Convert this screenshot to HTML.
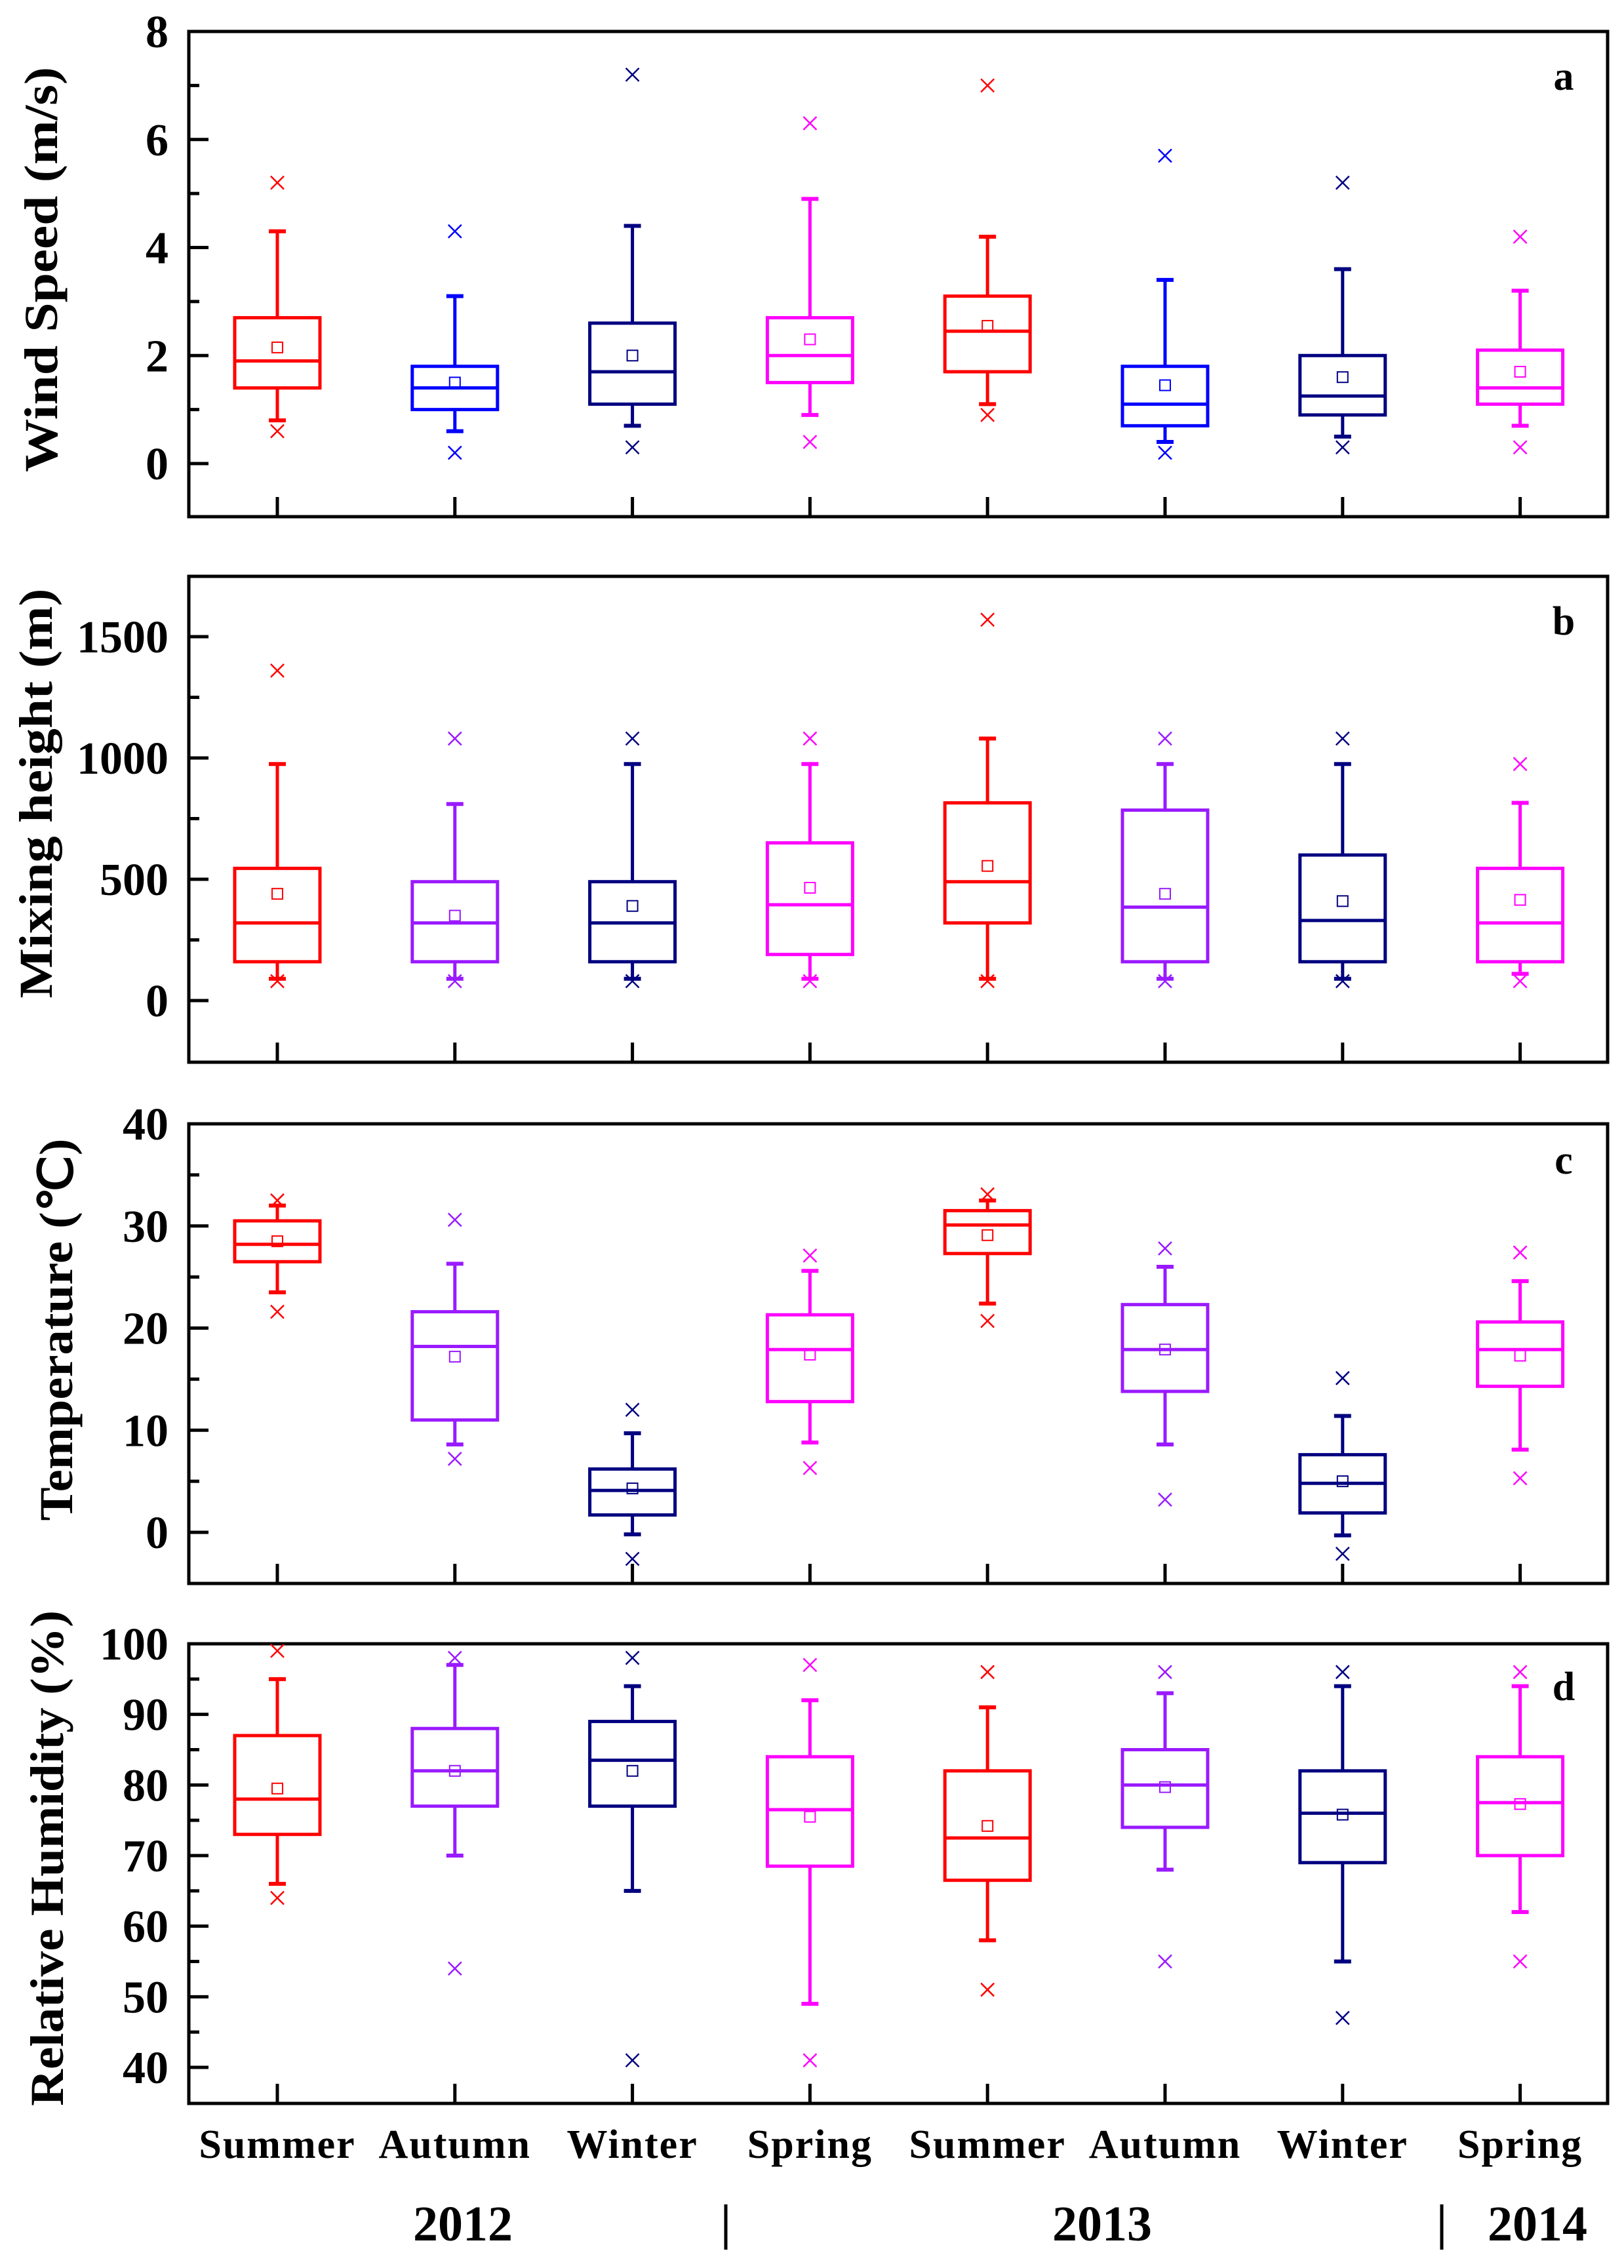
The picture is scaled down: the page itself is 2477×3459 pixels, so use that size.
<!DOCTYPE html>
<html><head><meta charset="utf-8"><style>
html,body{margin:0;padding:0;background:#fff;}
svg{display:block;}
text{font-family:"Liberation Serif",serif;font-weight:bold;fill:#000;}
</style></head><body>
<svg id="chart" width="2477" height="3459" viewBox="0 0 2477 3459" xmlns="http://www.w3.org/2000/svg"></svg>
<script>
// ---- data ----
const categories = ["Summer","Autumn","Winter","Spring","Summer","Autumn","Winter","Spring"];
const years = ["2012","2013","2014"];
// Wind speed (m/s)
const windLow = [0.8,0.6,0.7,0.9,1.1,0.4,0.5,0.7];
const windQ1 = [1.4,1.0,1.1,1.5,1.7,0.7,0.9,1.1];
const windMed = [1.9,1.4,1.7,2.0,2.45,1.1,1.25,1.4];
const windQ3 = [2.7,1.8,2.6,2.7,3.1,1.8,2.0,2.1];
const windHigh = [4.3,3.1,4.4,4.9,4.2,3.4,3.6,3.2];
const windMean = [2.15,1.5,2.0,2.3,2.55,1.45,1.6,1.7];
const windMin = [0.6,0.2,0.3,0.4,0.9,0.2,0.3,0.3];
const windMax = [5.2,4.3,7.2,6.3,7.0,5.7,5.2,4.2];
const windTicks = [0,2,4,6,8];
// Mixing height (m)
const mixLow = [90,90,90,90,90,90,90,110];
const mixQ1 = [160,160,160,190,320,160,160,160];
const mixMed = [320,320,320,395,490,385,330,320];
const mixQ3 = [545,490,490,650,815,785,600,545];
const mixHigh = [975,810,975,975,1080,975,975,815];
const mixMean = [440,350,390,465,555,440,410,415];
const mixMin = [80,80,80,80,80,80,80,80];
const mixMax = [1360,1080,1080,1080,1570,1080,1080,975];
const mixTicks = [0,500,1000,1500];
// Temperature (C)
const tempLow = [23.5,8.6,-0.2,8.8,22.4,8.6,-0.3,8.1];
const tempQ1 = [26.5,11.0,1.7,12.8,27.3,13.8,1.9,14.3];
const tempMed = [28.2,18.2,4.1,17.9,30.1,17.9,4.8,17.9];
const tempQ3 = [30.5,21.6,6.2,21.3,31.5,22.3,7.6,20.6];
const tempHigh = [32.0,26.3,9.7,25.6,32.5,26.0,11.4,24.6];
const tempMean = [28.5,17.2,4.3,17.4,29.1,17.9,5.0,17.3];
const tempMin = [21.6,7.2,-2.6,6.3,20.7,3.2,-2.1,5.3];
const tempMax = [32.5,30.6,12.0,27.1,33.1,27.8,15.1,27.4];
const tempTicks = [0,10,20,30,40];
// Relative humidity (%)
const rhLow = [66,70,65,49,58,68,55,62];
const rhQ1 = [73,77,77,68.5,66.5,74,69,70];
const rhMed = [78,82,83.5,76.5,72.5,80,76,77.5];
const rhQ3 = [87,88,89,84,82,85,82,84];
const rhHigh = [95,97,94,92,91,93,94,94];
const rhMean = [79.5,82,82,75.5,74.2,79.7,75.8,77.3];
const rhMin = [64,54,41,41,51,55,47,55];
const rhMax = [99,98,98,97,96,96,96,96];
const rhTicks = [40,50,60,70,80,90,100];

const NS="http://www.w3.org/2000/svg";
const svg=document.getElementById('chart');
function mk(tag,attrs,parent){const e=document.createElementNS(NS,tag);for(const k in attrs)e.setAttribute(k,attrs[k]);(parent||svg).appendChild(e);return e;}

const X0=288,X1=2452;
const catX0=423,catStep=270.8;
function xScale(i){return catX0+i*catStep;}

const RED="#ff0000",BLUE="#0000ff",NAVY="#000080",MAG="#ff00ff",PUR="#9a1aff";
const panels=[
 {key:"wind",letter:"a",title:"Wind Speed (m/s)",top:48,bottom:788,vmin:0,vmax:8,ymin:707,ymaxPx:48,minorStep:1,ticks:windTicks,
  low:windLow,q1:windQ1,med:windMed,q3:windQ3,high:windHigh,mean:windMean,mn:windMin,mx:windMax,
  colors:[RED,BLUE,NAVY,MAG,RED,BLUE,NAVY,MAG],titleX:62,titleY:411,titleLen:618,letterY:137},
 {key:"mixing",letter:"b",title:"Mixing height (m)",top:879,bottom:1620,vmin:0,vmax:1500,ymin:1526,ymaxPx:971,minorStep:250,ticks:mixTicks,
  low:mixLow,q1:mixQ1,med:mixMed,q3:mixQ3,high:mixHigh,mean:mixMean,mn:mixMin,mx:mixMax,
  colors:[RED,PUR,NAVY,MAG,RED,PUR,NAVY,MAG],titleX:54,titleY:1210,titleLen:625,letterY:968},
 {key:"temp",letter:"c",title:"Temperature (\u2103)",top:1714,bottom:2415,vmin:0,vmax:40,ymin:2337,ymaxPx:1714,minorStep:5,ticks:tempTicks,
  low:tempLow,q1:tempQ1,med:tempMed,q3:tempQ3,high:tempHigh,mean:tempMean,mn:tempMin,mx:tempMax,
  colors:[RED,PUR,NAVY,MAG,RED,PUR,NAVY,MAG],titleX:85,titleY:2028,titleLen:583,letterY:1790},
 {key:"rh",letter:"d",title:"Relative Humidity (%)",top:2507,bottom:3208,vmin:40,vmax:100,ymin:3153,ymaxPx:2507,minorStep:5,ticks:rhTicks,
  low:rhLow,q1:rhQ1,med:rhMed,q3:rhQ3,high:rhHigh,mean:rhMean,mn:rhMin,mx:rhMax,
  colors:[RED,PUR,NAVY,MAG,RED,PUR,NAVY,MAG],titleX:71,titleY:2834,titleLen:756,letterY:2593}
];

panels.forEach(p=>{
  const y=v=>p.ymin+(v-p.vmin)*(p.ymaxPx-p.ymin)/(p.vmax-p.vmin);
  const g=mk('g',{});
  
  
  const fr=mk('rect',{x:X0,y:p.top,width:X1-X0,height:p.bottom-p.top,fill:'none',stroke:'#000','stroke-width':5},g);
  
  
  for(let v=p.vmin;v<=p.vmax+1e-9;v+=p.minorStep){
    const major=p.ticks.some(t=>Math.abs(t-v)<1e-9);
    const t=mk('line',{x1:X0,x2:X0+(major?30:16),y1:y(v),y2:y(v),stroke:'#000','stroke-width':5},g);
    
    
  }
  p.ticks.forEach(v=>{
    const tl=mk('text',{x:257,y:y(v)+24,'text-anchor':'end','font-size':70},g);
    tl.textContent=String(v);
    
    
  });
  categories.forEach((c,i)=>{
    const t=mk('line',{x1:xScale(i),x2:xScale(i),y1:p.bottom,y2:p.bottom-30,stroke:'#000','stroke-width':5},g);
    
    
  });
  const tt=mk('text',{x:0,y:0,'text-anchor':'middle','font-size':72,transform:`translate(${p.titleX+25},${p.titleY}) rotate(-90)`,textLength:p.titleLen,lengthAdjust:'spacingAndGlyphs'},g);
  tt.textContent=p.title;
  
  
  const lt=mk('text',{x:2385,y:p.letterY,'text-anchor':'middle','font-size':62},g);
  lt.textContent=p.letter;
  
  
  categories.forEach((c,i)=>{
    const cx=xScale(i),col=p.colors[i],hw=65,cw=13;
    const bg=mk('g',{stroke:col,fill:'none'},g);
    
    
    mk('line',{x1:cx,x2:cx,y1:y(p.low[i]),y2:y(p.q1[i]),'stroke-width':5},bg);
    mk('line',{x1:cx,x2:cx,y1:y(p.q3[i]),y2:y(p.high[i]),'stroke-width':5},bg);
    mk('line',{x1:cx-cw,x2:cx+cw,y1:y(p.low[i]),y2:y(p.low[i]),'stroke-width':6},bg);
    mk('line',{x1:cx-cw,x2:cx+cw,y1:y(p.high[i]),y2:y(p.high[i]),'stroke-width':6},bg);
    mk('rect',{x:cx-hw,y:y(p.q3[i]),width:hw*2,height:y(p.q1[i])-y(p.q3[i]),'stroke-width':5},bg);
    mk('line',{x1:cx-hw,x2:cx+hw,y1:y(p.med[i]),y2:y(p.med[i]),'stroke-width':5},bg);
    const ym=y(p.mean[i]);
    mk('rect',{x:cx-8,y:ym-8,width:16,height:16,'stroke-width':2},bg);
    [p.mn[i],p.mx[i]].forEach(v=>{
      const yy=y(v),s=10;
      mk('path',{d:`M${cx-s},${yy-s}L${cx+s},${yy+s}M${cx-s},${yy+s}L${cx+s},${yy-s}`,'stroke-width':2.5},bg);
    });
  });
});

categories.forEach((c,i)=>{
  const t=mk('text',{x:xScale(i),y:3291,'text-anchor':'middle','font-size':62,'letter-spacing':'2'});
  t.textContent=c;
  
  
});
const yearX=[706,1681,2345];
years.forEach((yv,i)=>{
  const t=mk('text',{x:yearX[i],y:3417,'text-anchor':'middle','font-size':76});
  t.textContent=yv;
  
  
});
[1107,2199].forEach(x=>{
  const l=mk('line',{x1:x,x2:x,y1:3362,y2:3431,stroke:'#000','stroke-width':5});
  
  
});
</script>
</body></html>
